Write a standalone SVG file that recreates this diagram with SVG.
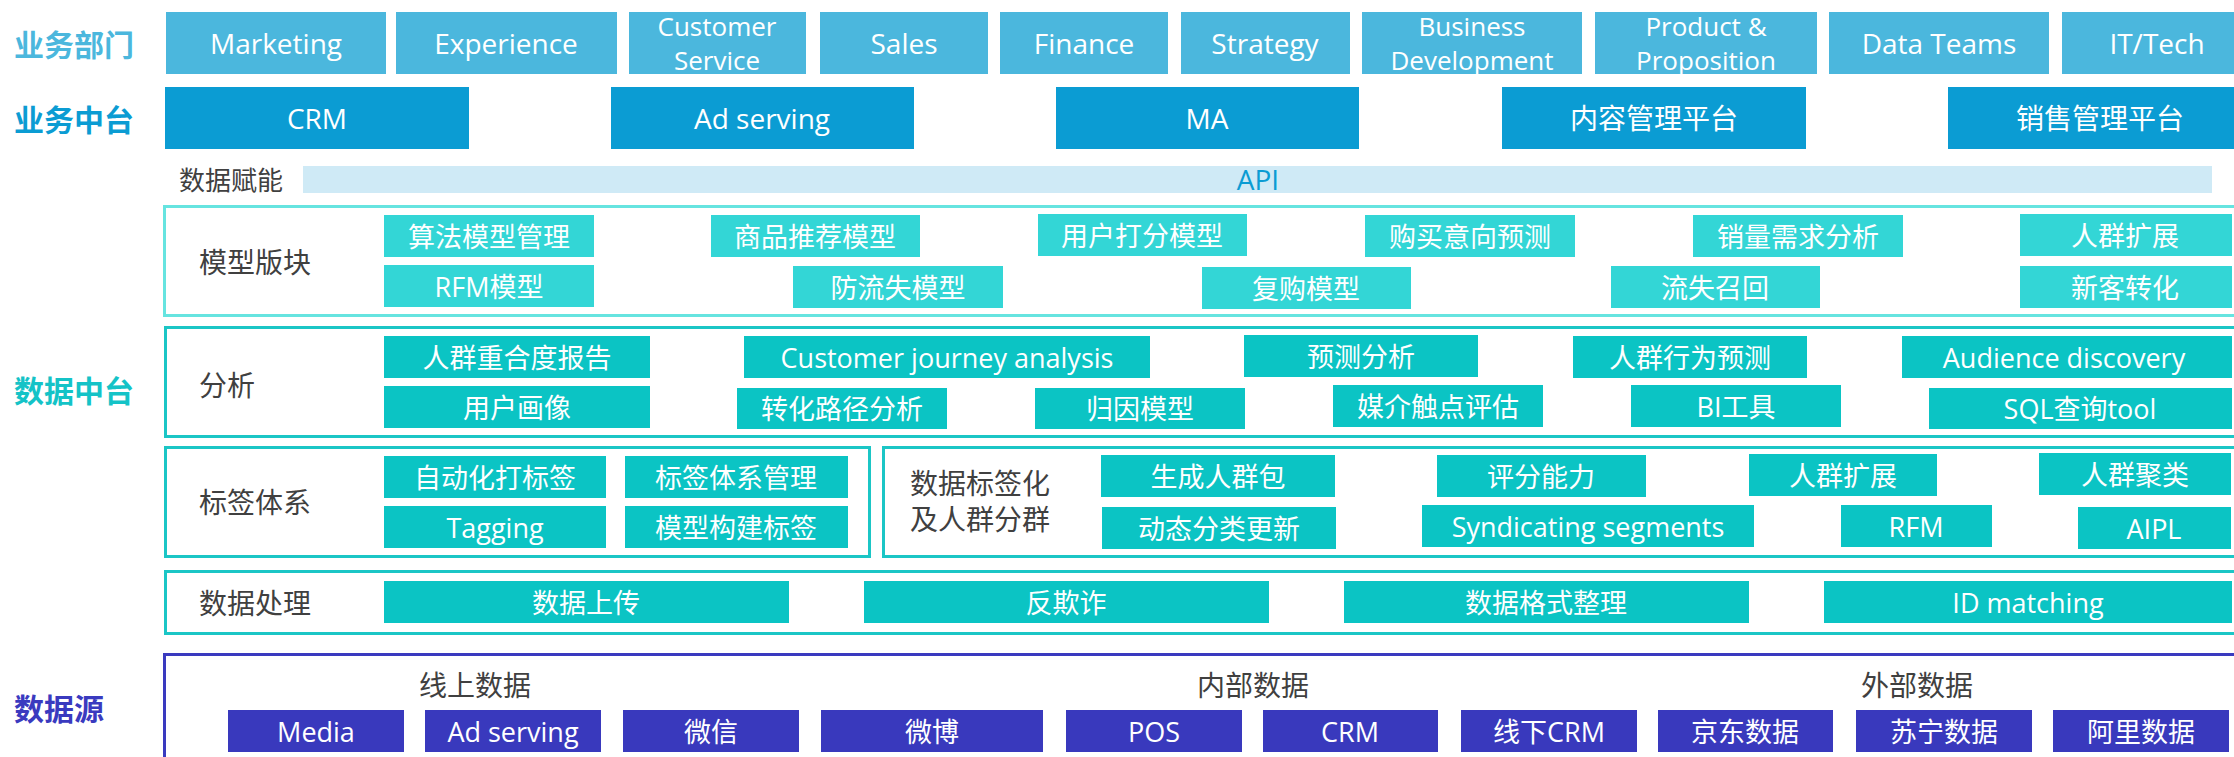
<svg xmlns="http://www.w3.org/2000/svg" width="2234" height="757" viewBox="0 0 2234 757">
<style>
text{font-family:"Open Sans","Noto Sans CJK SC",sans-serif;text-anchor:middle;dominant-baseline:central}
.bt{fill:#ffffff;font-size:27px}
.bt1{fill:#ffffff;font-size:28px}
.bt2{fill:#ffffff;font-size:26px}
.side{font-size:30px;font-weight:bold;text-anchor:start;font-family:"Noto Sans CJK SC",sans-serif}
.lab{fill:#404040;font-size:28px;text-anchor:start}
.sub{fill:#404040;font-size:28px}
.r1{fill:#4bb7dd}
.r2{fill:#0b9cd3}
.mb{fill:#33d6d6}
.ab{fill:#0bc4c4}
.sb{fill:#3939bd}
.secL{fill:#ffffff;stroke:#66e4e0;stroke-width:3}
.sec{fill:#ffffff;stroke:#1bc6c6;stroke-width:3}
.secS{fill:#ffffff;stroke:#3a3abf;stroke-width:3}
</style>
<rect width="2234" height="757" fill="#ffffff"/>

<g id="side-labels">
<text class="side" x="14" y="43" fill="#4bb7dd">业务部门</text>
<text class="side" x="14" y="118" fill="#0b9cd3">业务中台</text>
<text class="side" x="14" y="389" fill="#14c3c7">数据中台</text>
<text class="side" x="14" y="707" fill="#3a3abf">数据源</text>
</g>

<g id="row-departments">
<g id="dept-marketing"><rect class="r1" x="166" y="12" width="220" height="62"/><text class="bt1" x="276" y="43">Marketing</text></g>
<g id="dept-experience"><rect class="r1" x="396" y="12" width="221" height="62"/><text class="bt1" x="506" y="43">Experience</text></g>
<g id="dept-customer"><rect class="r1" x="629" y="12" width="177" height="62"/><text class="bt2" x="717" y="26">Customer</text><text class="bt2" x="717" y="60">Service</text></g>
<g id="dept-sales"><rect class="r1" x="820" y="12" width="168" height="62"/><text class="bt1" x="904" y="43">Sales</text></g>
<g id="dept-finance"><rect class="r1" x="1000" y="12" width="168" height="62"/><text class="bt1" x="1084" y="43">Finance</text></g>
<g id="dept-strategy"><rect class="r1" x="1181" y="12" width="169" height="62"/><text class="bt1" x="1265" y="43">Strategy</text></g>
<g id="dept-bizdev"><rect class="r1" x="1362" y="12" width="220" height="62"/><text class="bt2" x="1472" y="26">Business</text><text class="bt2" x="1472" y="60">Development</text></g>
<g id="dept-product"><rect class="r1" x="1595" y="12" width="222" height="62"/><text class="bt2" x="1706" y="26">Product &amp;</text><text class="bt2" x="1706" y="60">Proposition</text></g>
<g id="dept-data"><rect class="r1" x="1829" y="12" width="220" height="62"/><text class="bt1" x="1939" y="43">Data Teams</text></g>
<g id="dept-it"><rect class="r1" x="2062" y="12" width="190" height="62"/><text class="bt1" x="2157" y="43">IT/Tech</text></g>
</g>

<g id="row-business">
<g id="biz-crm"><rect class="r2" x="165" y="87" width="304" height="62"/><text class="bt1" x="317" y="118">CRM</text></g>
<g id="biz-ad"><rect class="r2" x="611" y="87" width="303" height="62"/><text class="bt1" x="762" y="118">Ad serving</text></g>
<g id="biz-ma"><rect class="r2" x="1056" y="87" width="303" height="62"/><text class="bt1" x="1207" y="118">MA</text></g>
<g id="biz-content"><rect class="r2" x="1502" y="87" width="304" height="62"/><text class="bt1" x="1654" y="118">内容管理平台</text></g>
<g id="biz-sales"><rect class="r2" x="1948" y="87" width="304" height="62"/><text class="bt1" x="2100" y="118">销售管理平台</text></g>
</g>

<g id="api">
<text class="lab" x="179" y="180" style="font-size:26px">数据赋能</text>
<rect x="303" y="166" width="1909" height="27" fill="#cfeaf6"/>
<text x="1258" y="179" fill="#0b9cd3" style="font-size:28px">API</text>
</g>

<g id="sec-model">
<rect class="secL" x="164.5" y="206.5" width="2080" height="109"/>
<text class="lab" x="199" y="262">模型版块</text>
<g id="m1"><rect class="mb" x="384" y="215" width="210" height="42"/><text class="bt" x="489" y="236">算法模型管理</text></g>
<g id="m2"><rect class="mb" x="711" y="215" width="209" height="42"/><text class="bt" x="815" y="236">商品推荐模型</text></g>
<g id="m3"><rect class="mb" x="1038" y="214" width="209" height="42"/><text class="bt" x="1142" y="235">用户打分模型</text></g>
<g id="m4"><rect class="mb" x="1365" y="215" width="210" height="42"/><text class="bt" x="1470" y="236">购买意向预测</text></g>
<g id="m5"><rect class="mb" x="1693" y="215" width="210" height="42"/><text class="bt" x="1798" y="236">销量需求分析</text></g>
<g id="m6"><rect class="mb" x="2020" y="214" width="212" height="42"/><text class="bt" x="2125" y="235">人群扩展</text></g>
<g id="m7"><rect class="mb" x="384" y="265" width="210" height="42"/><text class="bt" x="489" y="286">RFM模型</text></g>
<g id="m8"><rect class="mb" x="793" y="266" width="210" height="42"/><text class="bt" x="898" y="287">防流失模型</text></g>
<g id="m9"><rect class="mb" x="1202" y="267" width="209" height="42"/><text class="bt" x="1306" y="288">复购模型</text></g>
<g id="m10"><rect class="mb" x="1611" y="266" width="209" height="42"/><text class="bt" x="1715" y="287">流失召回</text></g>
<g id="m11"><rect class="mb" x="2020" y="266" width="212" height="42"/><text class="bt" x="2125" y="287">新客转化</text></g>
</g>

<g id="sec-analysis">
<rect class="sec" x="165.5" y="327.5" width="2080" height="109"/>
<text class="lab" x="199" y="385">分析</text>
<g id="a1"><rect class="ab" x="384" y="336" width="266" height="42"/><text class="bt" x="517" y="357">人群重合度报告</text></g>
<g id="a2"><rect class="ab" x="744" y="336" width="406" height="42"/><text class="bt" x="947" y="357">Customer journey analysis</text></g>
<g id="a3"><rect class="ab" x="1244" y="335" width="234" height="42"/><text class="bt" x="1361" y="356">预测分析</text></g>
<g id="a4"><rect class="ab" x="1573" y="336" width="234" height="42"/><text class="bt" x="1690" y="357">人群行为预测</text></g>
<g id="a5"><rect class="ab" x="1902" y="336" width="330" height="42"/><text class="bt" x="2064" y="357">Audience discovery</text></g>
<g id="a6"><rect class="ab" x="384" y="386" width="266" height="42"/><text class="bt" x="517" y="407">用户画像</text></g>
<g id="a7"><rect class="ab" x="737" y="388" width="210" height="41"/><text class="bt" x="842" y="408">转化路径分析</text></g>
<g id="a8"><rect class="ab" x="1035" y="388" width="210" height="41"/><text class="bt" x="1140" y="408">归因模型</text></g>
<g id="a9"><rect class="ab" x="1333" y="385" width="210" height="42"/><text class="bt" x="1438" y="406">媒介触点评估</text></g>
<g id="a10"><rect class="ab" x="1631" y="385" width="210" height="42"/><text class="bt" x="1736" y="406">BI工具</text></g>
<g id="a11"><rect class="ab" x="1929" y="388" width="303" height="41"/><text class="bt" x="2080" y="408">SQL查询tool</text></g>
</g>

<g id="sec-tags">
<rect class="sec" x="165.5" y="447.5" width="704" height="109"/>
<text class="lab" x="199" y="502">标签体系</text>
<g id="t1"><rect class="ab" x="384" y="456" width="222" height="42"/><text class="bt" x="495" y="477">自动化打标签</text></g>
<g id="t2"><rect class="ab" x="625" y="456" width="223" height="42"/><text class="bt" x="736" y="477">标签体系管理</text></g>
<g id="t3"><rect class="ab" x="384" y="506" width="222" height="42"/><text class="bt" x="495" y="527">Tagging</text></g>
<g id="t4"><rect class="ab" x="625" y="506" width="223" height="42"/><text class="bt" x="736" y="527">模型构建标签</text></g>
</g>

<g id="sec-segments">
<rect class="sec" x="883.5" y="447.5" width="1362" height="109"/>
<text class="lab" x="910" y="483">数据标签化</text>
<text class="lab" x="910" y="519">及人群分群</text>
<g id="s1"><rect class="ab" x="1101" y="455" width="234" height="42"/><text class="bt" x="1218" y="476">生成人群包</text></g>
<g id="s2"><rect class="ab" x="1102" y="507" width="234" height="42"/><text class="bt" x="1219" y="528">动态分类更新</text></g>
<g id="s3"><rect class="ab" x="1437" y="455" width="209" height="42"/><text class="bt" x="1541" y="476">评分能力</text></g>
<g id="s4"><rect class="ab" x="1422" y="505" width="332" height="42"/><text class="bt" x="1588" y="526">Syndicating segments</text></g>
<g id="s5"><rect class="ab" x="1749" y="454" width="188" height="42"/><text class="bt" x="1843" y="475">人群扩展</text></g>
<g id="s6"><rect class="ab" x="1841" y="505" width="151" height="42"/><text class="bt" x="1916" y="526">RFM</text></g>
<g id="s7"><rect class="ab" x="2039" y="453" width="192" height="42"/><text class="bt" x="2135" y="474">人群聚类</text></g>
<g id="s8"><rect class="ab" x="2078" y="507" width="153" height="42"/><text class="bt" x="2154" y="528">AIPL</text></g>
</g>

<g id="sec-processing">
<rect class="sec" x="165.5" y="571.5" width="2080" height="62"/>
<text class="lab" x="199" y="603">数据处理</text>
<g id="p1"><rect class="ab" x="384" y="581" width="405" height="42"/><text class="bt" x="586" y="602">数据上传</text></g>
<g id="p2"><rect class="ab" x="864" y="581" width="405" height="42"/><text class="bt" x="1066" y="602">反欺诈</text></g>
<g id="p3"><rect class="ab" x="1344" y="581" width="405" height="42"/><text class="bt" x="1546" y="602">数据格式整理</text></g>
<g id="p4"><rect class="ab" x="1824" y="581" width="408" height="42"/><text class="bt" x="2028" y="602">ID matching</text></g>
</g>

<g id="sec-sources">
<rect class="secS" x="164.5" y="654.5" width="2080" height="120"/>
<text class="sub" x="475" y="685">线上数据</text>
<text class="sub" x="1253" y="685">内部数据</text>
<text class="sub" x="1917" y="685">外部数据</text>
<g id="d1"><rect class="sb" x="228" y="710" width="176" height="42"/><text class="bt" x="316" y="731">Media</text></g>
<g id="d2"><rect class="sb" x="425" y="710" width="176" height="42"/><text class="bt" x="513" y="731">Ad serving</text></g>
<g id="d3"><rect class="sb" x="623" y="710" width="176" height="42"/><text class="bt" x="711" y="731">微信</text></g>
<g id="d4"><rect class="sb" x="821" y="710" width="222" height="42"/><text class="bt" x="932" y="731">微博</text></g>
<g id="d5"><rect class="sb" x="1066" y="710" width="176" height="42"/><text class="bt" x="1154" y="731">POS</text></g>
<g id="d6"><rect class="sb" x="1263" y="710" width="175" height="42"/><text class="bt" x="1350" y="731">CRM</text></g>
<g id="d7"><rect class="sb" x="1461" y="710" width="176" height="42"/><text class="bt" x="1549" y="731">线下CRM</text></g>
<g id="d8"><rect class="sb" x="1658" y="710" width="175" height="42"/><text class="bt" x="1745" y="731">京东数据</text></g>
<g id="d9"><rect class="sb" x="1856" y="710" width="176" height="42"/><text class="bt" x="1944" y="731">苏宁数据</text></g>
<g id="d10"><rect class="sb" x="2053" y="710" width="176" height="42"/><text class="bt" x="2141" y="731">阿里数据</text></g>
</g>

<g id="connectors"/>
</svg>
